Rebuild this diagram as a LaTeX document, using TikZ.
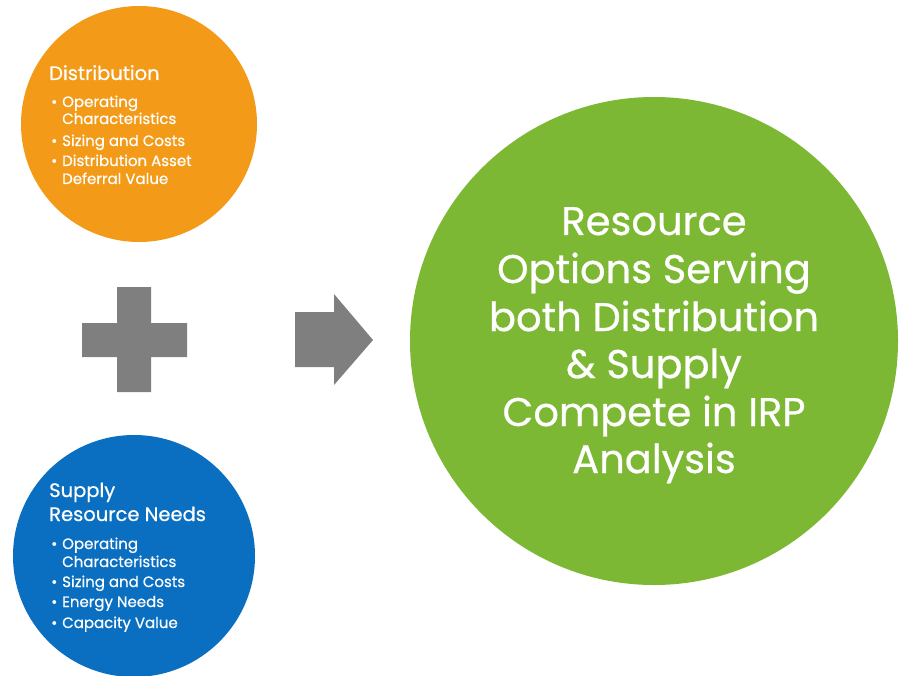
\documentclass[tikz,border=0pt]{standalone}
\usepackage{fontspec}
\setmainfont{Poppins}[FakeBold=0.6]
\definecolor{orangeC}{HTML}{F39B19}
\definecolor{blueC}{HTML}{0A6FC1}
\definecolor{greenC}{HTML}{7CB834}
\definecolor{grayC}{HTML}{7F7F7F}
\tikzset{
  bubble/.style={circle, inner sep=0pt, draw=none},
  ttltext/.style={text=white, anchor=base west, inner sep=0pt, font=\fontsize{19.5}{22}\selectfont},
  itemtext/.style={text=white, anchor=base west, inner sep=0pt, font=\fontsize{15}{18}\selectfont},
  bigtext/.style={text=white, anchor=base, inner sep=0pt, font=\fontsize{40}{47.5}\selectfont},
  shapefill/.style={fill=grayC, draw=none}
}
\newcommand{\bl}{\makebox[11pt][l]{\textbullet}}
\begin{document}
\begin{tikzpicture}[x=1pt,y=-1pt]
\useasboundingbox (0,0) rectangle (901,676);
\node[bubble, fill=orangeC, minimum size=236pt] (dist) at (139,124) {};
\node[bubble, fill=blueC, minimum size=242pt] (supply) at (134,556) {};
\node[bubble, fill=greenC, minimum size=488pt] (result) at (654,341) {};
% Distribution
\node[ttltext] (d0) at (49,80) {Distribution};
\node[itemtext] (d1) at (51,107) {\bl Operating};
\node[itemtext] (d2) at (62,124) {Characteristics};
\node[itemtext] (d3) at (51,146) {\bl Sizing and Costs};
\node[itemtext] (d4) at (51,166) {\bl Distribution Asset};
\node[itemtext] (d5) at (62,184) {Deferral Value};
% Supply
\node[ttltext] (s0) at (49,497) {Supply};
\node[ttltext] (s1) at (49,521) {Resource Needs};
\node[itemtext] (s2) at (51,549) {\bl Operating};
\node[itemtext] (s3) at (62,567) {Characteristics};
\node[itemtext] (s4) at (51,587) {\bl Sizing and Costs};
\node[itemtext] (s5) at (51,607) {\bl Energy Needs};
\node[itemtext] (s6) at (51,628) {\bl Capacity Value};
% Result
\node[bigtext] (r1) at (654,235) {Resource};
\node[bigtext] (r2) at (654,283) {Options Serving};
\node[bigtext] (r3) at (654,331) {both Distribution};
\node[bigtext] (r4) at (654,378) {\& Supply};
\node[bigtext] (r5) at (654,426) {Compete in IRP};
\node[bigtext] (r6) at (654,473) {Analysis};
% plus and arrow
\fill[shapefill] (117,287) -- (151,287) -- (151,323) -- (187,323) -- (187,357) -- (151,357) -- (151,392) -- (117,392) -- (117,357) -- (82,357) -- (82,323) -- (117,323) -- cycle;
\fill[shapefill] (295,312) -- (334,312) -- (334,294) -- (373,340) -- (334,385) -- (334,367) -- (295,367) -- cycle;
\end{tikzpicture}
\end{document}
